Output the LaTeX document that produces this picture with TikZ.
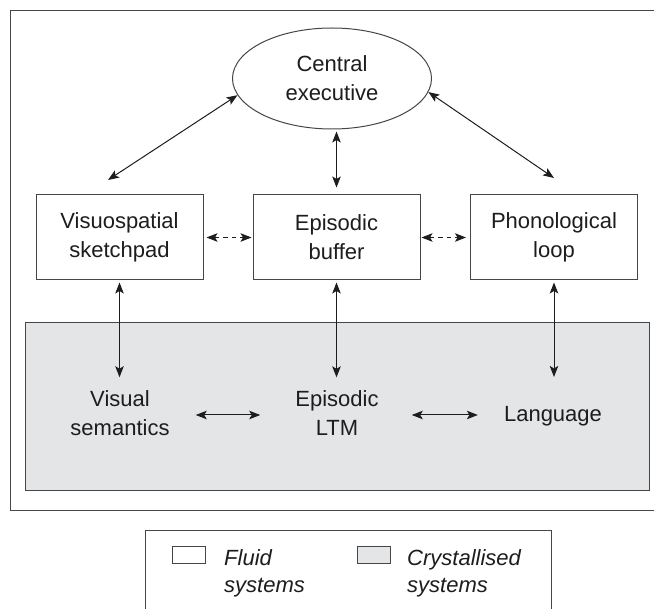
\documentclass[tikz,border=0pt]{standalone}
\usepackage{fontspec}
\setmainfont{Liberation Sans}
\usetikzlibrary{shapes.geometric,arrows.meta}
\definecolor{crys}{RGB}{228,229,231}
\definecolor{ink}{RGB}{30,28,28}
\definecolor{edge}{RGB}{70,70,70}
\begin{document}
\begin{tikzpicture}[x=1pt,y=-1pt,
  frame/.style={draw=edge,line width=1pt},
  txt/.style={inner sep=0pt,align=center,font=\fontsize{22}{29}\selectfont,text=ink},
  fluidbox/.style={frame,fill=white,minimum width=167pt,minimum height=85pt,txt},
  dbl/.style={{Stealth[length=11pt,width=8.5pt,inset=2.5pt]}-{Stealth[length=11pt,width=8.5pt,inset=2.5pt]},line width=1pt,draw=ink},
  dsh/.style={dbl,dash pattern=on 4.5pt off 4pt},
  legtxt/.style={inner sep=0pt,align=left,anchor=west,font=\fontsize{22}{27}\selectfont\itshape,text=ink},
]
\useasboundingbox (0,0) rectangle (654,609);
\clip (0,0) rectangle (654,609);
% outer frame and crystallised region
\draw[frame] (10,11) rectangle (662,511);
\draw[frame,fill=crys] (25,323) rectangle (649,491);
% central executive
\node[ellipse,frame,fill=white,minimum width=199pt,minimum height=101pt,txt] (ce) at (332,78.5) {Central\\executive};
% fluid boxes
\node[fluidbox] (vs) at (119.5,237.5) {Visuospatial\\sketchpad};
\node[fluidbox] (eb) at (336.5,237.5) {Episodic\\buffer};
\node[fluidbox] (pl) at (554,237.5) {Phonological\\loop};
% crystallised nodes
\node[txt] (vsem) at (120,413.5) {Visual\\semantics};
\node[txt] (ltm) at (337,413.5) {Episodic\\LTM};
\node[txt] (lang) at (553,416) {Language};
% free ends of the diagonal connectors
\coordinate (vsT) at (108,180);
\coordinate (plT) at (554,178);
% connectors
\draw[dbl] (ce.190) -- (vsT);
\draw[dbl] (ce.352) -- (plT);
\draw[dbl,shorten <=2pt,shorten >=7pt] (ce.south -| eb.north) -- (eb.north);
\draw[dsh,shorten <=3pt,shorten >=1pt] (vs.east) -- (eb.west);
\draw[dsh,shorten <=1pt,shorten >=4pt] (eb.east) -- (pl.west);
\draw[dbl,shorten <=2pt,shorten >=13.5pt] (vs.south) -- (vs.south |- vsem.north);
\draw[dbl,shorten <=2pt,shorten >=13.5pt] (eb.south) -- (eb.south |- ltm.north);
\draw[dbl,shorten <=2pt,shorten >=29pt] (pl.south) -- (pl.south |- lang.north);
\draw[dbl,shorten <=26pt,shorten >=35pt] (vsem.east |- 0,415) -- (ltm.west |- 0,415);
\draw[dbl,shorten <=33pt,shorten >=26pt] (ltm.east |- 0,415) -- (lang.west |- 0,415);
% legend
\draw[frame] (145,531) rectangle (551,620);
\node[frame,fill=white,minimum width=33pt,minimum height=17pt,inner sep=0pt] (sw1) at (188.5,555.5) {};
\node[frame,fill=crys,minimum width=33pt,minimum height=17pt,inner sep=0pt] (sw2) at (373.5,555.5) {};
\node[legtxt] (fl) at (224,573) {Fluid\\systems};
\node[legtxt] (cr) at (407,573) {Crystallised\\systems};
\end{tikzpicture}
\end{document}
